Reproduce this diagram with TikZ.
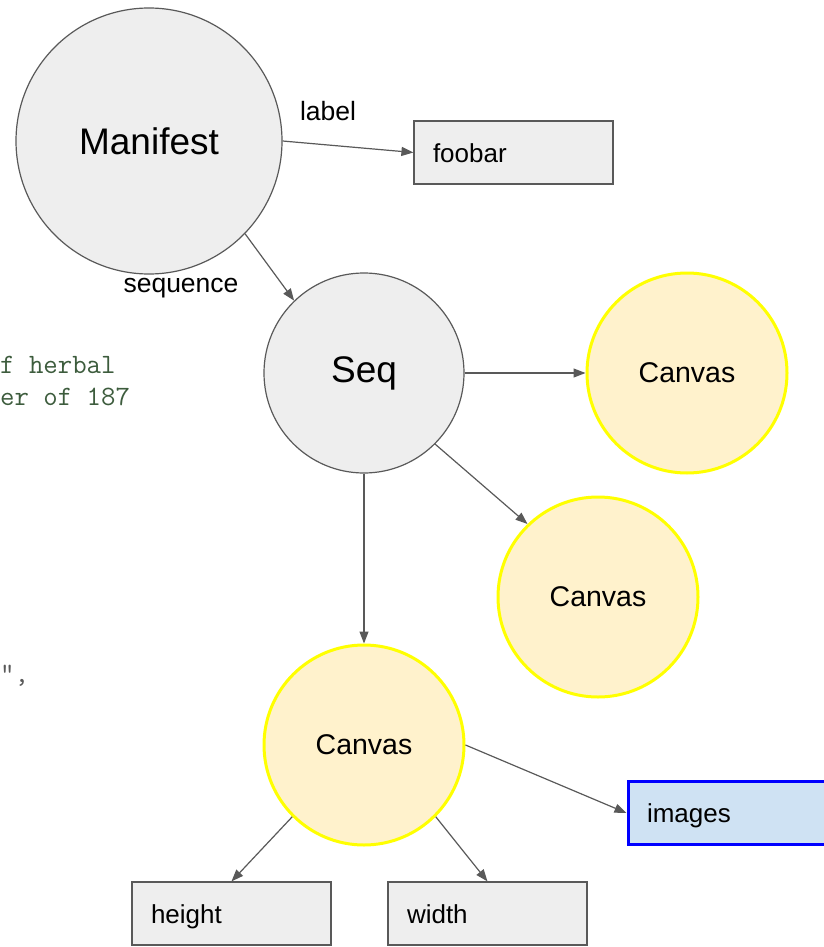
\documentclass[tikz,border=0pt]{standalone}
\usepackage{fontspec}
\setmainfont{Liberation Sans}
\usetikzlibrary{arrows.meta}

\definecolor{nodegray}{HTML}{EEEEEE}
\definecolor{linegray}{HTML}{595959}
\definecolor{canvasfill}{HTML}{FFF2CC}
\definecolor{canvasline}{HTML}{FFFF00}
\definecolor{imgfill}{HTML}{CFE2F3}
\definecolor{imgline}{HTML}{0000FF}
\definecolor{codegreen}{HTML}{3D5C3D}

\tikzset{
  resource/.style={circle, draw=linegray, fill=nodegray, line width=1.2pt, inner sep=0pt, font=\fontsize{37}{40}\selectfont},
  canvas/.style={circle, draw=canvasline, fill=canvasfill, line width=3pt, minimum size=200pt, inner sep=0pt, font=\fontsize{28.5}{30}\selectfont},
  prop/.style={rectangle, draw=linegray, fill=nodegray, line width=1.2pt, minimum height=63pt, text width=161pt, text height=22pt, text depth=3pt, inner xsep=19pt, align=left, font=\fontsize{26}{30}\selectfont},
  link/.style={draw=linegray, line width=1.2pt, -{Triangle[length=12pt,width=9pt]}},
  linklabel/.style={font=\fontsize{26.5}{30}\selectfont},
  codetext/.style={font=\ttfamily\fontsize{28}{30}\selectfont, inner sep=0pt, anchor=base west},
}

\begin{document}
\begin{tikzpicture}[x=1pt,y=-1pt]
  \useasboundingbox (0,0) rectangle (823,947);

  % Background code
  \node[codetext, text=codegreen] (code1) at (0,373) {f herbal};
  \node[codetext, text=codegreen] (code2) at (0,405) {er of 187};
  \node[codetext, text=linegray] (code3) at (0,682) {",};

  % Define nodes
  \node[resource, minimum size=266pt] (manifest) at (149,141) {Manifest};
  \node[prop] (foobar) at (513.5,152.5) {foobar};
  \node[resource, minimum size=200pt] (seq) at (364,373) {Seq};
  \node[canvas] (canvasa) at (687,373) {Canvas};
  \node[canvas] (canvasb) at (598,597) {Canvas};
  \node[canvas] (canvasc) at (364,745) {Canvas};
  \node[prop, draw=imgline, fill=imgfill, line width=3pt, text width=180pt] (images) at (737,813) {images};
  \node[prop] (height) at (231.5,913.5) {height};
  \node[prop] (width) at (487.5,913.5) {width};

  % Links
  \draw[link] (manifest.east) -- (foobar.west);
  \draw[link] (manifest.-44) -- (seq.134);
  \draw[link] (seq.east) -- (canvasa.west);
  \draw[link] (seq.-45) -- (canvasb.134);
  \draw[link] (seq.south) -- (canvasc.north);
  \draw[link] (canvasc.east) -- (images.west);
  \draw[link] (canvasc.-135) -- (height.north);
  \draw[link] (canvasc.-45) -- (width.north);

  \node[linklabel] (lbllabel) at (328,111) {label};
  \node[linklabel] (lblsequence) at (181,288) {sequence};

\end{tikzpicture}
\end{document}
